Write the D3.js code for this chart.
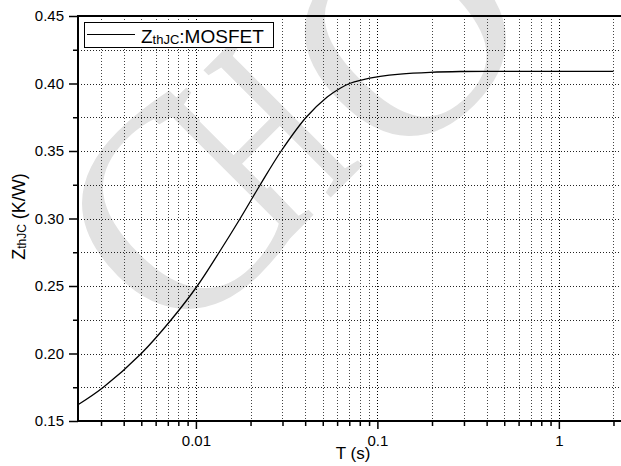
<!DOCTYPE html>
<html>
<head>
<meta charset="utf-8">
<script src="https://cdn.jsdelivr.net/npm/d3@7"></script>
<style>
  html, body { margin: 0; padding: 0; background: #fff; }
  svg { display: block; font-family: Arial, "Liberation Sans", sans-serif; }
</style>
</head>
<body>
<svg id="chart" width="621" height="466"></svg>
<script>
// Transient thermal impedance, junction to case, of the MOSFET
const timeS = [0.00224, 0.00309, 0.0050, 0.00731, 0.01017, 0.01344, 0.01754, 0.02262,
               0.02951, 0.04053, 0.0529, 0.0624, 0.0708, 0.0804, 0.1036, 0.1335,
               0.1954, 0.2858, 0.475, 2.0];
const zthJC = [0.162, 0.175, 0.200, 0.225, 0.250, 0.275, 0.300, 0.325,
               0.350, 0.375, 0.390, 0.3965, 0.4002, 0.4024, 0.4053, 0.4070,
               0.4083, 0.4089, 0.409, 0.409];

const xMajorTicks = [0.01, 0.1, 1];
const xTickLabels = ["0.01", "0.1", "1"];
const yMajorTicks = [0.15, 0.20, 0.25, 0.30, 0.35, 0.40, 0.45];
const yTickLabels = ["0.15", "0.20", "0.25", "0.30", "0.35", "0.40", "0.45"];
const yMinorTicks = [0.175, 0.225, 0.275, 0.325, 0.375, 0.425];
const xMinorTicks = [0.003, 0.004, 0.005, 0.006, 0.007, 0.008, 0.009,
                     0.02, 0.03, 0.04, 0.05, 0.06, 0.07, 0.08, 0.09,
                     0.2, 0.3, 0.4, 0.5, 0.6, 0.7, 0.8, 0.9, 2];

const svg = d3.select("#chart");
const plotL = 78, plotT = 16, plotB = 421, plotR = 640;

const x = d3.scaleLog().domain([0.00224, 2.8]).range([plotL, plotR]);
const y = d3.scaleLinear().domain([0.15, 0.45]).range([plotB, plotT]);

// faint watermark lettering behind the plot
const wm = svg.append("g")
  .attr("fill", "#e2e2e2")
  .attr("font-family", "'Liberation Serif', 'DejaVu Serif', serif")
  .attr("text-anchor", "middle");
[
  { ch: "C", cx: 178, cy: 212, size: 300, sx: 1 },
  { ch: "H", cx: 258, cy: 142, size: 275, sx: 0.63 },
  { ch: "O", cx: 405, cy: 35, size: 290, sx: 1 }
].forEach(l => {
  wm.append("text")
    .attr("transform", `translate(${l.cx},${l.cy}) rotate(-45) scale(${l.sx},1)`)
    .attr("y", l.size * 0.33)
    .attr("font-size", l.size)
    .text(l.ch);
});

// grid
const grid = svg.append("g")
  .attr("fill", "none")
  .attr("stroke-width", 1)
  .attr("stroke-dasharray", "1,2");

grid.selectAll("line.hy")
  .data(yMajorTicks.filter(v => v > 0.15 && v < 0.45).concat(yMinorTicks))
  .join("line")
  .attr("x1", plotL).attr("x2", 621)
  .attr("y1", d => Math.round(y(d)) + 0.5).attr("y2", d => Math.round(y(d)) + 0.5)
  .attr("stroke", "#222");

grid.selectAll("line.vx")
  .data(xMinorTicks)
  .join("line")
  .attr("x1", d => Math.round(x(d)) + 0.5).attr("x2", d => Math.round(x(d)) + 0.5)
  .attr("y1", plotT).attr("y2", plotB)
  .attr("stroke", "#444");

grid.selectAll("line.vmaj")
  .data(xMajorTicks)
  .join("line")
  .attr("x1", d => Math.round(x(d)) + 0.5).attr("x2", d => Math.round(x(d)) + 0.5)
  .attr("y1", plotT).attr("y2", plotB)
  .attr("stroke", "#000");

// curve
const line = d3.line()
  .x((d, i) => x(timeS[i]))
  .y(d => y(d))
  .curve(d3.curveCatmullRom.alpha(0.5));

svg.append("path")
  .datum(zthJC)
  .attr("d", line)
  .attr("fill", "none")
  .attr("stroke", "#000")
  .attr("stroke-width", 1.3);

// axes
const xAxisMajor = d3.axisBottom(x).tickValues(xMajorTicks)
  .tickFormat((d, i) => xTickLabels[i]).tickSize(8).tickPadding(6);
const xAxisMinor = d3.axisBottom(x).tickValues(xMinorTicks)
  .tickFormat("").tickSize(5);

const gxMinor = svg.append("g").attr("transform", `translate(0,${plotB})`).call(xAxisMinor);
const gx = svg.append("g").attr("transform", `translate(0,${plotB})`).call(xAxisMajor);
[gx, gxMinor].forEach(g => {
  g.select(".domain").remove();
  g.selectAll(".tick line").attr("stroke", "#000").attr("stroke-width", 1.5);
});
gx.selectAll(".tick text")
  .attr("font-size", 15).attr("fill", "#000")
  .attr("font-family", "Arial, 'Liberation Sans', sans-serif");

const yAxisMajor = d3.axisLeft(y).tickValues(yMajorTicks)
  .tickFormat((d, i) => yTickLabels[i]).tickSize(9).tickPadding(5);
const yAxisMinor = d3.axisLeft(y).tickValues(yMinorTicks)
  .tickFormat("").tickSize(5);

const gyMinor = svg.append("g").attr("transform", `translate(${plotL},0)`).call(yAxisMinor);
const gy = svg.append("g").attr("transform", `translate(${plotL},0)`).call(yAxisMajor);
[gy, gyMinor].forEach(g => {
  g.select(".domain").remove();
  g.selectAll(".tick line").attr("stroke", "#000").attr("stroke-width", 1.5);
});
gy.selectAll(".tick text")
  .attr("font-size", 15).attr("fill", "#000")
  .attr("font-family", "Arial, 'Liberation Sans', sans-serif");

// frame lines: left, bottom and top
svg.append("line").attr("x1", plotL).attr("x2", plotL).attr("y1", plotT - 1).attr("y2", plotB + 1)
  .attr("stroke", "#000").attr("stroke-width", 2);
svg.append("line").attr("x1", plotL - 1).attr("x2", 621).attr("y1", plotB).attr("y2", plotB)
  .attr("stroke", "#000").attr("stroke-width", 2);
svg.append("line").attr("x1", plotL - 1).attr("x2", 621).attr("y1", plotT).attr("y2", plotT)
  .attr("stroke", "#000").attr("stroke-width", 2);

// axis titles
svg.append("text")
  .attr("x", 353).attr("y", 459)
  .attr("text-anchor", "middle")
  .attr("font-size", 17)
  .text("T (s)");

const yTitle = svg.append("text")
  .attr("transform", "translate(25,216.5) rotate(-90)")
  .attr("text-anchor", "middle")
  .attr("font-size", 18);
yTitle.append("tspan").text("Z");
yTitle.append("tspan").attr("font-size", 12).attr("dy", 1).text("thJC");
yTitle.append("tspan").attr("dy", -1).text(" (K/W)");

// legend
const lg = svg.append("g");
lg.append("rect")
  .attr("x", 84.5).attr("y", 22.5).attr("width", 189).attr("height", 25)
  .attr("fill", "#fff").attr("stroke", "#000").attr("stroke-width", 1);
lg.append("line")
  .attr("x1", 87).attr("x2", 135).attr("y1", 34.5).attr("y2", 34.5)
  .attr("stroke", "#000").attr("stroke-width", 1.2);
const lt = lg.append("text").attr("x", 141).attr("y", 43).attr("font-size", 19);
lt.append("tspan").text("Z");
lt.append("tspan").attr("font-size", 13).attr("dy", 0.5).text("thJC");
lt.append("tspan").attr("dy", -0.5).text(":MOSFET");
</script>
</body>
</html>
